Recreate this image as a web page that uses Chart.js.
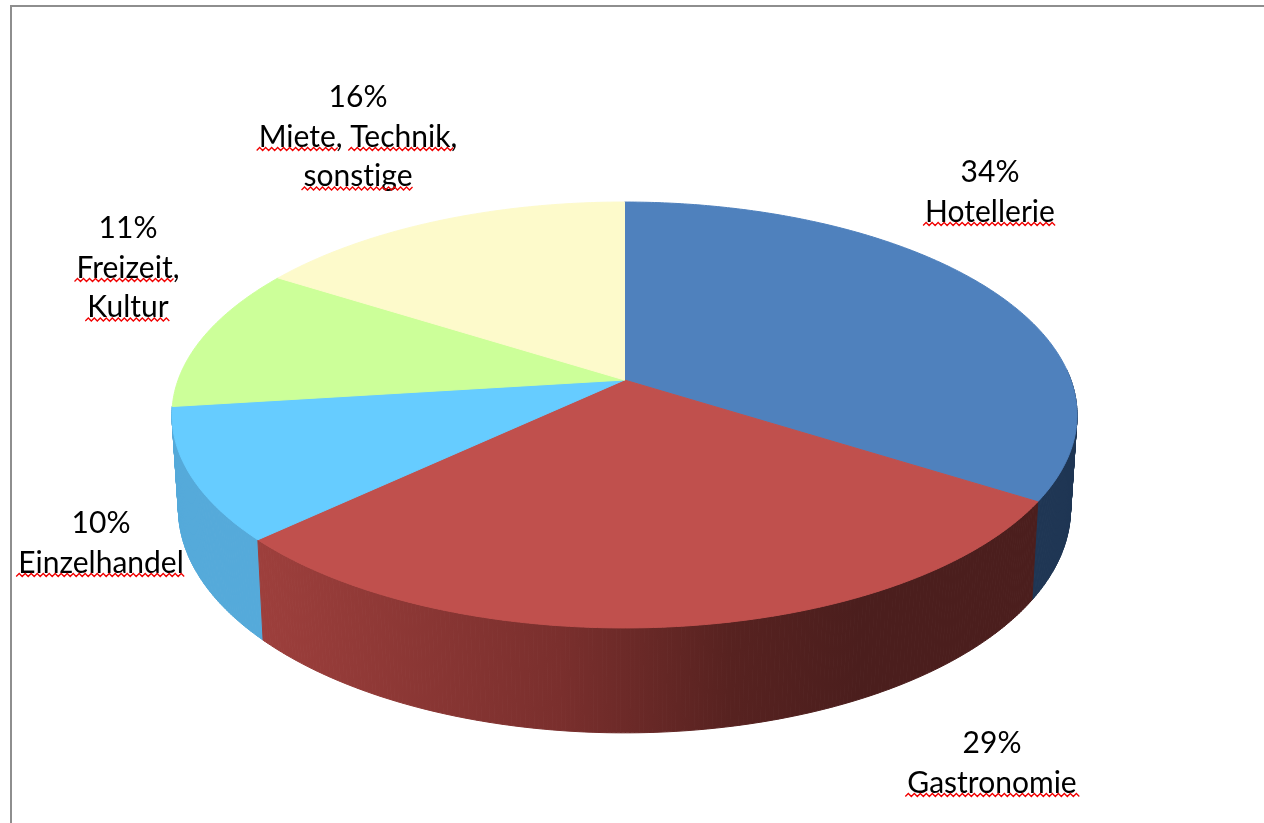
<!DOCTYPE html>
<html lang="de">
<head>
<meta charset="utf-8">
<title>Anteile nach Branche</title>
<script src="https://cdn.jsdelivr.net/npm/chart.js@4"></script>
<style>
  html, body { margin: 0; background: #fff; overflow: hidden; }
  canvas { display: block; }
</style>
</head>
<body>
<canvas id="pie" width="1264" height="823"></canvas>
<script>
(function () {
    'use strict';

    const categories = ['Hotellerie', 'Gastronomie', 'Einzelhandel', 'Freizeit, Kultur', 'Miete, Technik, sonstige'];
    const shares = [34, 29, 10, 11, 16];
    const faceColors = ['#4f81bd', '#c0504d', '#66ccff', '#ccff99', '#fdfacb'];
    const wallColors = ['#1f3654', null, '#55aada', null, null];

    // gradient along the red wall: [x, colour]
    const redWallStops = [[262, '#9d3f3c'], [560, '#7a2f2d'], [730, '#572220'], [860, '#4b1e1d'], [1035, '#4b1e1d']];

    // text blocks: wrapped lines, centre x, first baseline, line height
    const labelLines = [
        ['Hotellerie'],
        ['Gastronomie'],
        ['Einzelhandel'],
        ['Freizeit,', 'Kultur'],
        ['Miete, Technik,', 'sonstige']
    ];
    const labelCentres = [990, 992, 101, 128, 358];
    const labelBaselines = [182, 753, 533, 238, 107];
    const lineHeight = 39.5;

    // perspective of the disc: rim of the top and bottom faces
    const top = { x: 624.5, y: 380, a: 446.4, b: 207.2, k: -0.1643 };
    const bottom = { x: 624.5, y: 472, a: 440, b: 218, k: -0.1643 };

    function project(face, angle) {
        const u = Math.cos(angle), v = Math.sin(angle);
        const w = 1 + face.k * v;
        return { x: face.x + face.a * u / w, y: face.y + face.b * v / w };
    }

    function redGradient(ctx) {
        const g = ctx.createLinearGradient(262, 0, 1035, 0);
        redWallStops.forEach(s => g.addColorStop((s[0] - 262) / (1035 - 262), s[1]));
        return g;
    }

    const STEP = Math.PI / 360;

    function drawWall(ctx, arc, fill) {
        // only the near side of the rim can be seen
        const from = Math.max(arc.startAngle, -0.05);
        const to = Math.min(arc.endAngle, Math.PI - 0.05);
        if (to <= from) return;
        ctx.fillStyle = fill;
        ctx.strokeStyle = fill;
        ctx.lineWidth = 1;
        for (let a = from; a < to; a += STEP) {
            const b = Math.min(a + STEP, to);
            const p1 = project(top, a), p2 = project(top, b);
            const p3 = project(bottom, b), p4 = project(bottom, a);
            ctx.beginPath();
            ctx.moveTo(p1.x, p1.y);
            ctx.lineTo(p2.x, p2.y);
            ctx.lineTo(p3.x, p3.y);
            ctx.lineTo(p4.x, p4.y);
            ctx.closePath();
            ctx.fill();
            ctx.stroke();
        }
    }

    function drawFace(ctx, arc, fill) {
        ctx.fillStyle = fill;
        ctx.strokeStyle = fill;
        ctx.lineWidth = 1;
        ctx.beginPath();
        ctx.moveTo(top.x, top.y);
        for (let a = arc.startAngle; a < arc.endAngle; a += STEP) {
            const p = project(top, a);
            ctx.lineTo(p.x, p.y);
        }
        const end = project(top, arc.endAngle);
        ctx.lineTo(end.x, end.y);
        ctx.closePath();
        ctx.fill();
        ctx.stroke();
    }

    // the arcs keep their angles from Chart.js, they are only drawn tilted
    const tiltedPie = {
        id: 'tiltedPie',
        beforeDatasetDraw(chart) {
            const ctx = chart.ctx;
            const arcs = chart.getDatasetMeta(0).data;
            ctx.save();
            drawWall(ctx, arcs[0], wallColors[0]);
            drawWall(ctx, arcs[2], wallColors[2]);
            drawWall(ctx, arcs[1], redGradient(ctx));
            arcs.forEach((arc, i) => drawFace(ctx, arc, faceColors[i]));
            ctx.restore();
            return false;
        }
    };

    function squiggle(ctx, x1, x2, y) {
        ctx.beginPath();
        let up = true;
        ctx.moveTo(x1, y + 2);
        for (let x = x1 + 3; x < x2; x += 3) {
            ctx.lineTo(x, up ? y - 1 : y + 2);
            up = !up;
        }
        ctx.strokeStyle = '#f00000';
        ctx.lineWidth = 1.3;
        ctx.stroke();
    }

    const sliceLabels = {
        id: 'sliceLabels',
        afterDatasetsDraw(chart) {
            const ctx = chart.ctx;
            ctx.save();
            ctx.font = '30px Lato, "Open Sans", sans-serif';
            ctx.letterSpacing = '0.01px'; // keeps "ti" from joining into a ligature
            ctx.fillStyle = '#000';
            ctx.textBaseline = 'alphabetic';
            shares.forEach((share, i) => {
                const cx = labelCentres[i];
                let y = labelBaselines[i];
                ctx.textAlign = 'center';
                ctx.fillText(share + '%', cx, y);
                labelLines[i].forEach(line => {
                    y += lineHeight;
                    ctx.textAlign = 'center';
                    ctx.fillText(line, cx, y);
                    // spell-check marks below each word, commas left out
                    const left = cx - ctx.measureText(line).width / 2;
                    let pos = 0;
                    line.split(' ').forEach(word => {
                        const bare = word.replace(/,$/, '');
                        const x1 = left + ctx.measureText(line.slice(0, pos)).width;
                        const x2 = x1 + ctx.measureText(bare).width;
                        squiggle(ctx, x1 - 2, x2 + 3, y + 2);
                        pos += word.length + 1;
                    });
                });
            });
            ctx.restore();
        }
    };

    const frame = {
        id: 'frame',
        beforeDraw(chart) {
            const ctx = chart.ctx;
            ctx.save();
            ctx.fillStyle = '#fff';
            ctx.fillRect(0, 0, chart.width, chart.height);
            ctx.strokeStyle = '#8e8e8e';
            ctx.lineWidth = 2;
            ctx.beginPath();
            ctx.moveTo(11, chart.height);
            ctx.lineTo(11, 6);
            ctx.lineTo(chart.width, 6);
            ctx.stroke();
            ctx.restore();
        }
    };

    new Chart(document.getElementById('pie'), {
        type: 'pie',
        data: {
            labels: categories,
            datasets: [{ data: shares, backgroundColor: faceColors, borderWidth: 0 }]
        },
        options: {
            responsive: false,
            animation: false,
            plugins: {
                legend: { display: false },
                tooltip: { enabled: false }
            }
        },
        plugins: [frame, tiltedPie, sliceLabels]
    });
})();
</script>
</body>
</html>
